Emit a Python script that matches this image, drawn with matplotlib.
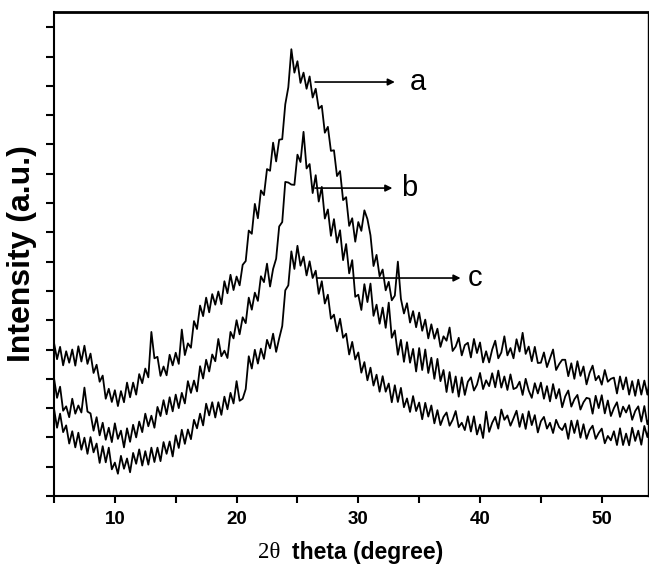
import numpy as np
import matplotlib
matplotlib.use("Agg")
import matplotlib.pyplot as plt

# 2theta grid (0.25 degree steps, 5 -> 54)
two_theta = np.arange(5, 54.01, 0.25)

# intensity (a.u.), curve a (top)
int_a = [
    523, 467, 509, 446, 494, 455, 500, 445,
    511, 459, 513, 451, 486, 420, 448, 390,
    411, 332, 366, 321, 361, 307, 358, 320,
    387, 337, 387, 346, 416, 385, 435, 405,
    560, 470, 475, 410, 442, 412, 482, 446,
    489, 451, 568, 481, 521, 506, 597, 570,
    650, 614, 677, 627, 689, 653, 698, 655,
    733, 692, 755, 703, 749, 719, 789, 802,
    906, 895, 997, 948, 1043, 1027, 1116, 1110,
    1206, 1142, 1216, 1218, 1337, 1395, 1525, 1445,
    1484, 1410, 1445, 1390, 1432, 1360, 1390, 1322,
    1332, 1240, 1260, 1178, 1180, 1092, 1109, 1010,
    1020, 922, 948, 868, 935, 905, 975, 945,
    890, 785, 823, 750, 773, 702, 731, 668,
    684, 800, 673, 623, 658, 592, 631, 576,
    626, 564, 602, 538, 586, 537, 571, 509,
    545, 530, 575, 495, 510, 540, 480, 515,
    523, 473, 536, 488, 524, 456, 494, 456,
    500, 530, 470, 490, 545, 480, 505, 470,
    535, 493, 557, 485, 510, 460, 509, 454,
    455, 490, 440, 470, 500, 430, 450, 465,
    465, 409, 453, 400, 460, 410, 442, 381,
    420, 445, 395, 410, 380, 430, 390, 400,
    404, 350, 408, 364, 405, 346, 392, 342,
    397, 346, 394, 346, 409,
]

# curve b (middle)
int_b = [
    402, 335, 373, 291, 306, 269, 332, 281,
    309, 285, 370, 288, 282, 223, 269, 207,
    250, 192, 233, 184, 248, 195, 223, 166,
    231, 185, 243, 200, 254, 218, 281, 238,
    274, 233, 304, 273, 327, 279, 337, 289,
    346, 300, 352, 316, 392, 352, 394, 357,
    443, 401, 465, 425, 483, 460, 536, 477,
    496, 471, 560, 538, 600, 552, 610, 590,
    677, 636, 694, 666, 750, 730, 793, 715,
    775, 810, 920, 935, 1072, 1070, 1063, 1062,
    1165, 1140, 1243, 1118, 1133, 1034, 1095, 1005,
    1055, 947, 978, 888, 945, 865, 907, 805,
    860, 760, 805, 680, 687, 635, 723, 662,
    725, 615, 653, 588, 643, 574, 660, 540,
    565, 482, 533, 458, 525, 455, 502, 425,
    505, 430, 500, 420, 472, 400, 468, 392,
    430, 355, 423, 353, 408, 339, 405, 345,
    390, 405, 360, 380, 420, 365, 395, 375,
    419, 371, 428, 370, 408, 362, 415, 365,
    370, 390, 345, 400, 360, 335, 385, 350,
    387, 332, 375, 323, 382, 333, 365, 303,
    340, 360, 305, 330, 345, 295, 320, 335,
    332, 281, 342, 300, 344, 282, 326, 273,
    300, 320, 270, 305, 285, 310, 260, 290,
    306, 254, 307, 245, 278,
]

# curve c (bottom)
int_c = [
    298, 233, 281, 218, 241, 179, 221, 166,
    216, 158, 199, 144, 201, 149, 179, 113,
    170, 115, 165, 91, 114, 76, 137, 93,
    128, 81, 147, 110, 159, 104, 153, 107,
    165, 116, 165, 119, 184, 144, 186, 135,
    207, 164, 226, 178, 227, 194, 260, 231,
    281, 241, 315, 275, 320, 268, 320, 277,
    339, 296, 352, 316, 392, 325, 332, 365,
    477, 435, 499, 452, 503, 468, 533, 504,
    554, 492, 538, 580, 702, 719, 835, 775,
    854, 786, 817, 753, 801, 744, 769, 690,
    733, 657, 687, 605, 619, 562, 605, 540,
    554, 483, 526, 466, 490, 421, 457, 395,
    438, 377, 414, 356, 409, 356, 384, 320,
    378, 321, 369, 303, 333, 287, 341, 290,
    319, 262, 318, 271, 309, 248, 293, 242,
    270, 285, 240, 260, 290, 235, 250, 225,
    272, 220, 272, 210, 244, 198, 288, 219,
    250, 270, 230, 295, 260, 275, 240, 265,
    291, 236, 280, 229, 289, 242, 276, 217,
    255, 270, 230, 250, 215, 260, 235, 225,
    247, 195, 257, 215, 258, 199, 245, 195,
    225, 240, 195, 215, 230, 180, 205, 190,
    221, 174, 231, 174, 213, 173, 233, 188,
    223, 175, 239, 201, 248,
]

labels = ["a", "b", "c"]
# arrow start (x, y), arrow tip x, label x
arrow_start = [(26.45, 1413), (26.45, 1051), (26.6, 744)]
arrow_tip_x = [33.0, 32.8, 38.4]
label_x = [34.9, 34.2, 39.6]

fig = plt.figure(figsize=(6.49, 5.69), dpi=100)
ax = fig.add_axes([54 / 649, 1 - 496 / 569, 594 / 649, 484 / 569])

for y in (int_a, int_b, int_c):
    ax.plot(two_theta, y, color="black", lw=1.3)

for lab, (sx, sy), tx, lx in zip(labels, arrow_start, arrow_tip_x, label_x):
    ax.annotate("", xy=(tx, sy), xytext=(sx, sy),
                arrowprops=dict(arrowstyle="-|>", color="black", lw=1.2,
                                mutation_scale=10, shrinkA=0, shrinkB=0))
    ax.text(lx, sy, lab, fontsize=21, family="Liberation Sans",
            ha="center", va="center")

ax.set_xlim(5, 53.8)
ax.set_ylim(0, 1652)
ax.set_xticks([10, 20, 30, 40, 50])
ax.set_xticks([5, 15, 25, 35, 45], minor=True)
ax.set_yticks(np.arange(0, 1601, 100))
ax.set_yticklabels([])
ax.tick_params(axis="x", which="both", direction="out", length=5, width=1.5,
               labelsize=13.5, pad=6)
ax.tick_params(axis="y", direction="out", length=6, width=1.5)
for lbl in ax.get_xticklabels():
    lbl.set_fontweight("bold")
    lbl.set_family("Liberation Sans")

for side in ["left", "bottom"]:
    ax.spines[side].set_linewidth(1.5)
ax.spines["top"].set_linewidth(2)
ax.spines["right"].set_linewidth(1)

ax.set_ylabel("Intensity (a.u.)", fontsize=23, fontweight="bold",
              family="Liberation Sans", labelpad=3)

fig.text(258 / 649, 1 - 553 / 569, "2θ", fontsize=16.5,
         family="Liberation Serif", ha="left", va="center")
fig.text(292 / 649, 1 - 553 / 569, "theta (degree)", fontsize=16.5,
         fontweight="bold", family="Liberation Sans", ha="left", va="center")

fig.savefig("out.png", dpi=100)
